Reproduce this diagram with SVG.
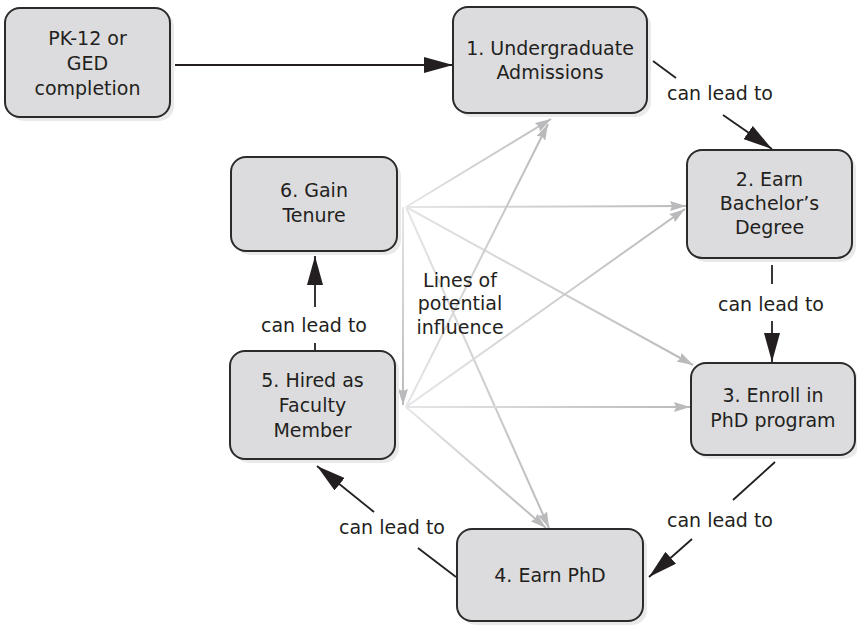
<svg xmlns="http://www.w3.org/2000/svg" width="857" height="626" viewBox="0 0 857 626">
<style>
.box{fill:#dcdcde;stroke:#2b2b2b;stroke-width:2}
.shadow{fill:#e9e9ea}
.t{font-family:"DejaVu Sans","Open Sans",sans-serif;font-size:19px;fill:#231f20;text-anchor:middle}
.blk{stroke:#231f20;stroke-width:1.8;fill:none}
.gr{stroke-width:2;fill:none}
</style>
<defs>
<marker id="ab" markerUnits="userSpaceOnUse" markerWidth="30" markerHeight="16" refX="29" refY="8" orient="auto"><path d="M0,0 L29,8 L0,16 z" fill="#231f20"/></marker>
<marker id="ag" markerUnits="userSpaceOnUse" markerWidth="16" markerHeight="10" refX="16" refY="5" orient="auto"><path d="M0,0 L16,5 L0,10 L2,5 z" fill="#bababc"/></marker>
<linearGradient id="g61" gradientUnits="userSpaceOnUse" x1="406" y1="207" x2="551" y2="119"><stop offset="0" stop-color="#e6e6e8"/><stop offset="1" stop-color="#bababc"/></linearGradient>
<linearGradient id="g62" gradientUnits="userSpaceOnUse" x1="406" y1="207" x2="686" y2="206"><stop offset="0" stop-color="#e6e6e8"/><stop offset="1" stop-color="#bababc"/></linearGradient>
<linearGradient id="g63" gradientUnits="userSpaceOnUse" x1="406" y1="207" x2="693" y2="365"><stop offset="0" stop-color="#e6e6e8"/><stop offset="1" stop-color="#bababc"/></linearGradient>
<linearGradient id="g64" gradientUnits="userSpaceOnUse" x1="406" y1="207" x2="549" y2="528"><stop offset="0" stop-color="#e6e6e8"/><stop offset="1" stop-color="#bababc"/></linearGradient>
<linearGradient id="g65" gradientUnits="userSpaceOnUse" x1="403" y1="207" x2="403" y2="405"><stop offset="0" stop-color="#e6e6e8"/><stop offset="1" stop-color="#bababc"/></linearGradient>
<linearGradient id="g51" gradientUnits="userSpaceOnUse" x1="406" y1="407" x2="548" y2="124"><stop offset="0" stop-color="#e6e6e8"/><stop offset="1" stop-color="#bababc"/></linearGradient>
<linearGradient id="g52" gradientUnits="userSpaceOnUse" x1="406" y1="407" x2="685" y2="209"><stop offset="0" stop-color="#e6e6e8"/><stop offset="1" stop-color="#bababc"/></linearGradient>
<linearGradient id="g53" gradientUnits="userSpaceOnUse" x1="406" y1="407" x2="690" y2="407"><stop offset="0" stop-color="#e6e6e8"/><stop offset="1" stop-color="#bababc"/></linearGradient>
<linearGradient id="g54" gradientUnits="userSpaceOnUse" x1="406" y1="407" x2="546" y2="528"><stop offset="0" stop-color="#e6e6e8"/><stop offset="1" stop-color="#bababc"/></linearGradient>
</defs>
<rect width="857" height="626" fill="#ffffff"/>

<g id="connectors">
<g id="influence">
<line class="gr" x1="406" y1="207" x2="551" y2="119" stroke="url(#g61)" marker-end="url(#ag)"/>
<line class="gr" x1="406" y1="207" x2="686" y2="206" stroke="url(#g62)" marker-end="url(#ag)"/>
<line class="gr" x1="406" y1="207" x2="693" y2="365" stroke="url(#g63)" marker-end="url(#ag)"/>
<line class="gr" x1="406" y1="207" x2="549" y2="528" stroke="url(#g64)" marker-end="url(#ag)"/>
<line class="gr" x1="403" y1="207" x2="403" y2="405" stroke="url(#g65)" marker-end="url(#ag)"/>
<line class="gr" x1="406" y1="407" x2="548" y2="124" stroke="url(#g51)" marker-end="url(#ag)"/>
<line class="gr" x1="406" y1="407" x2="685" y2="209" stroke="url(#g52)" marker-end="url(#ag)"/>
<line class="gr" x1="406" y1="407" x2="690" y2="407" stroke="url(#g53)" marker-end="url(#ag)"/>
<line class="gr" x1="406" y1="407" x2="546" y2="528" stroke="url(#g54)" marker-end="url(#ag)"/>
</g>
<line class="blk" x1="175" y1="65" x2="453" y2="65" marker-end="url(#ab)"/>
<line class="blk" x1="653" y1="61" x2="676" y2="78"/>
<line class="blk" x1="723" y1="115" x2="772" y2="149" marker-end="url(#ab)"/>
<line class="blk" x1="772" y1="265" x2="772" y2="284"/>
<line class="blk" x1="772" y1="321" x2="772" y2="362" marker-end="url(#ab)"/>
<line class="blk" x1="775" y1="462" x2="733" y2="500"/>
<line class="blk" x1="692" y1="539" x2="649" y2="577" marker-end="url(#ab)"/>
<line class="blk" x1="456" y1="577" x2="418" y2="548"/>
<line class="blk" x1="374" y1="512" x2="317" y2="466" marker-end="url(#ab)"/>
<line class="blk" x1="315" y1="351" x2="315" y2="343"/>
<line class="blk" x1="315" y1="307" x2="315" y2="256" marker-end="url(#ab)"/>
<text class="t" x="720" y="100">can lead to</text>
<text class="t" x="771" y="311">can lead to</text>
<text class="t" x="720" y="527">can lead to</text>
<text class="t" x="392" y="534">can lead to</text>
<text class="t" x="314" y="332">can lead to</text>
<text class="t" x="460" y="287">Lines of</text>
<text class="t" x="460" y="310">potential</text>
<text class="t" x="460" y="334">influence</text>
</g>

<g id="pk12">
<rect class="shadow" x="9" y="12" width="165" height="109" rx="15"/>
<rect class="box" x="5" y="8" width="165" height="109" rx="15"/>
<text class="t" x="87.5" y="45">PK-12 or</text>
<text class="t" x="87.5" y="70">GED</text>
<text class="t" x="87.5" y="95">completion</text>
</g>
<g id="n1">
<rect class="shadow" x="457" y="11" width="194" height="106" rx="15"/>
<rect class="box" x="453" y="7" width="194" height="106" rx="15"/>
<text class="t" x="550" y="55">1. Undergraduate</text>
<text class="t" x="550" y="79">Admissions</text>
</g>
<g id="n2">
<rect class="shadow" x="691" y="154" width="165" height="108" rx="15"/>
<rect class="box" x="687" y="150" width="165" height="108" rx="15"/>
<text class="t" x="769.5" y="186">2. Earn</text>
<text class="t" x="769.5" y="210">Bachelor’s</text>
<text class="t" x="769.5" y="234">Degree</text>
</g>
<g id="n3">
<rect class="shadow" x="695" y="367" width="164" height="92" rx="15"/>
<rect class="box" x="691" y="363" width="164" height="92" rx="15"/>
<text class="t" x="773" y="402">3. Enroll in</text>
<text class="t" x="773" y="427">PhD program</text>
</g>
<g id="n4">
<rect class="shadow" x="461" y="533" width="186" height="92" rx="15"/>
<rect class="box" x="457" y="529" width="186" height="92" rx="15"/>
<text class="t" x="550" y="582">4. Earn PhD</text>
</g>
<g id="n5">
<rect class="shadow" x="234" y="355" width="165" height="108" rx="15"/>
<rect class="box" x="230" y="351" width="165" height="108" rx="15"/>
<text class="t" x="312.5" y="387">5. Hired as</text>
<text class="t" x="312.5" y="412">Faculty</text>
<text class="t" x="312.5" y="437">Member</text>
</g>
<g id="n6">
<rect class="shadow" x="235" y="161" width="166" height="94" rx="15"/>
<rect class="box" x="231" y="157" width="166" height="94" rx="15"/>
<text class="t" x="314" y="197">6. Gain</text>
<text class="t" x="314" y="222">Tenure</text>
</g>
</svg>
